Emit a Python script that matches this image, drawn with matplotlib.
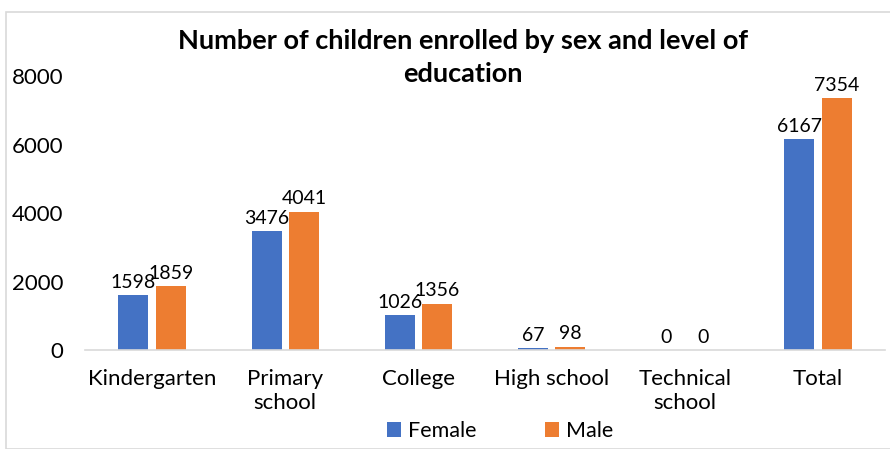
import matplotlib.pyplot as plt
import numpy as np
from matplotlib.patches import Rectangle

# enrolment counts per level of education
levels = ['Kindergarten', 'Primary\nschool', 'College', 'High school', 'Technical\nschool', 'Total']
female = [1598, 3476, 1026, 67, 0, 6167]
male = [1859, 4041, 1356, 98, 0, 7354]

plt.rcParams['font.family'] = ['Lato', 'DejaVu Sans']

fig = plt.figure(figsize=(8.9, 4.49), dpi=100)
fig.patches.append(Rectangle((6 / 890, 0), 1, 1 - 12 / 449, transform=fig.transFigure,
                             fill=False, edgecolor='#d9d9d9', linewidth=1.2))
ax = fig.add_axes([0.096, 0.2205, 0.898, 0.61])

x = np.arange(len(levels))
w = 0.225
b1 = ax.bar(x - 0.14, female, w, color='#4472c4', label='Female')
b2 = ax.bar(x + 0.14, male, w, color='#ed7d31', label='Male')
ax.bar_label(b1, padding=3, fontsize=14)
ax.bar_label(b2, padding=3, fontsize=14)

ax.set_xlim(-0.5, len(levels) - 0.5)
ax.set_ylim(0, 8000)
ax.set_yticks([0, 2000, 4000, 6000, 8000])
ax.set_xticks(x)
ax.set_xticklabels(levels, fontsize=16, linespacing=1.25)
ax.tick_params(axis='y', labelsize=16, length=0, pad=16)
ax.tick_params(axis='x', length=0, pad=14)
for s in ['top', 'right', 'left']:
    ax.spines[s].set_visible(False)
ax.spines['bottom'].set_color('#d9d9d9')
ax.spines['bottom'].set_linewidth(1.2)

fig.text(0.52, 0.872, 'Number of children enrolled by sex and level of\neducation',
         ha='center', va='center', fontsize=19.5, fontweight='bold', linespacing=1.45)

fig.legend(handles=[b1, b2], loc='center', bbox_to_anchor=(0.562, 0.04), ncol=2,
           frameon=False, fontsize=15.5, handlelength=0.65, handleheight=0.7,
           handletextpad=0.3, columnspacing=3.2)

fig.savefig('out.png', dpi=100)
